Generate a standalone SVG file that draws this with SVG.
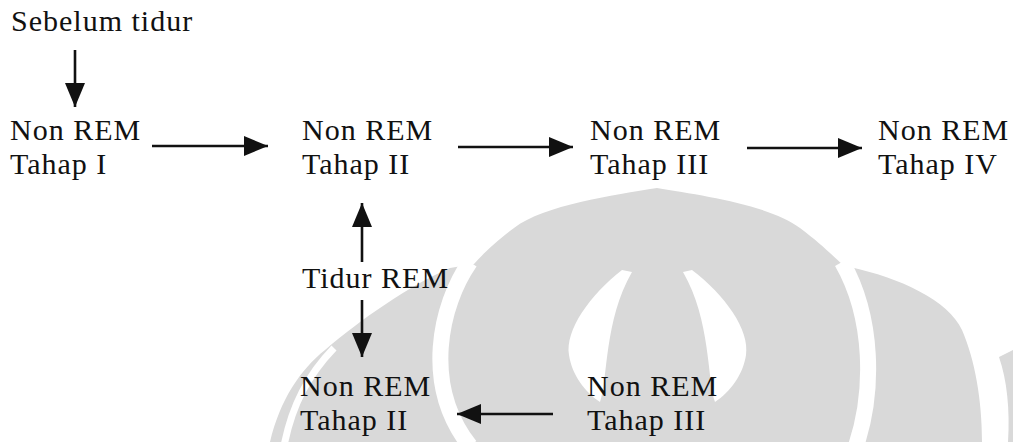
<svg xmlns="http://www.w3.org/2000/svg" width="1013" height="442" viewBox="0 0 1013 442">
<style>
  .t { font-family: "Liberation Serif", "Times New Roman", serif; font-size: 30px; letter-spacing: 1px; fill: #111; }
  .c { stroke: #111; stroke-width: 2.6; fill: none; }
  .wm { fill: #d9d9d9; }
  .gap { stroke: #fff; stroke-width: 16; fill: none; }
</style>
<defs>
  <marker id="ah" markerUnits="userSpaceOnUse" markerWidth="26" markerHeight="20" refX="24" refY="10" orient="auto">
    <path d="M0,0 L24,10 L0,20 Z" fill="#111"/>
  </marker>
</defs>
<rect width="1013" height="442" fill="#fff"/>
<g id="watermark">
  <path class="wm" d="M657,188 C700,195 770,205 800,228 C820,243 832,255 842,264 L850,267 C900,278 948,300 962,330 C975,360 982,400 982,442 L270,442 C280,400 300,370 325,350 C360,320 410,285 450,268 L474,264 C482,255 494,243 514,228 C544,205 614,195 657,188 Z"/>
  <path class="gap" d="M470,262 C440,305 422,385 470,446"/>
  <path class="gap" d="M842,262 C874,318 874,392 856,446"/>
  <path stroke="#fff" stroke-width="7" fill="none" d="M334,348 C308,375 292,405 284,446"/>
  <path class="wm" d="M999,357 C1007,380 1010,410 1008,442 L1013,442 L1013,350 Z"/>
  <path fill="#fff" d="M622,270 C590,295 565,330 569,355 C572,375 585,392 600,402 C608,380 604,320 632,272 Z"/>
  <path fill="#fff" d="M692,270 C725,295 750,330 746,355 C743,375 730,392 715,402 C707,380 711,320 683,272 Z"/>
</g>
<g id="connectors">
  <line class="c" x1="75" y1="50" x2="75" y2="107" marker-end="url(#ah)"/>
  <line class="c" x1="152" y1="146" x2="268" y2="146" marker-end="url(#ah)"/>
  <line class="c" x1="458" y1="147" x2="573" y2="147" marker-end="url(#ah)"/>
  <line class="c" x1="747" y1="148" x2="862" y2="148" marker-end="url(#ah)"/>
  <line class="c" x1="362" y1="262" x2="362" y2="203" marker-end="url(#ah)"/>
  <line class="c" x1="362" y1="300" x2="362" y2="357" marker-end="url(#ah)"/>
  <line class="c" x1="553" y1="414" x2="457" y2="414" marker-end="url(#ah)"/>
</g>
<g id="start"><text class="t" x="11" y="31">Sebelum tidur</text></g>
<g id="nrem1"><text class="t" x="10" y="140">Non REM</text><text class="t" x="10" y="174">Tahap I</text></g>
<g id="nrem2"><text class="t" x="302" y="140">Non REM</text><text class="t" x="302" y="174">Tahap II</text></g>
<g id="nrem3"><text class="t" x="590" y="140">Non REM</text><text class="t" x="590" y="174">Tahap III</text></g>
<g id="nrem4"><text class="t" x="878" y="140">Non REM</text><text class="t" x="878" y="174">Tahap IV</text></g>
<g id="rem"><text class="t" x="302" y="288">Tidur REM</text></g>
<g id="nrem2b"><text class="t" x="300" y="396">Non REM</text><text class="t" x="300" y="430">Tahap II</text></g>
<g id="nrem3b"><text class="t" x="587" y="396">Non REM</text><text class="t" x="587" y="430">Tahap III</text></g>
</svg>
